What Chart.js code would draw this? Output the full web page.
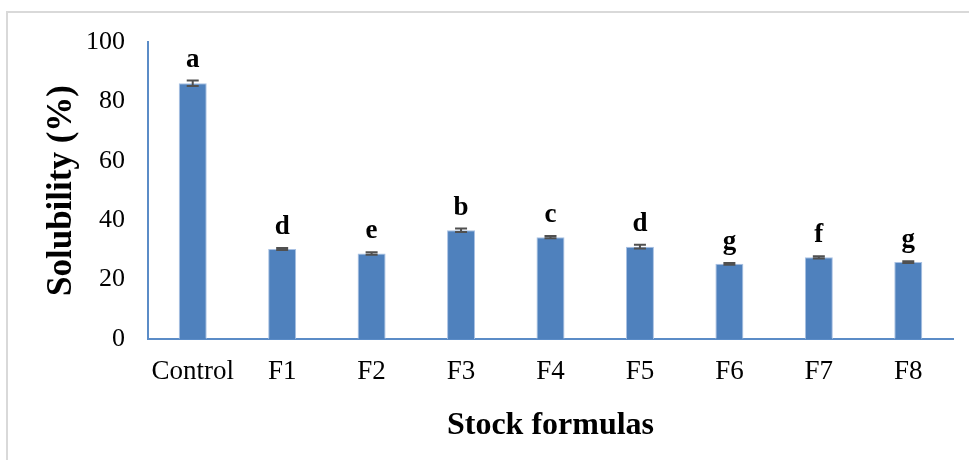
<!DOCTYPE html>
<html>
<head>
<meta charset="utf-8">
<script src="https://cdn.jsdelivr.net/npm/chart.js@4.4.1/dist/chart.umd.min.js"></script>
<style>
  html, body { margin: 0; padding: 0; background: #ffffff; }
  body { width: 969px; height: 460px; overflow: hidden; position: relative; }
  .frame {
    position: absolute; left: 6px; top: 11px; width: 1000px; height: 500px;
    border-left: 2px solid #d9d9d9; border-top: 2px solid #d9d9d9;
  }
  #chart { position: absolute; left: 0; top: 0; }
</style>
</head>
<body>
<div class="frame"></div>
<canvas id="chart" width="969" height="460"></canvas>
<script>
// Solubility of the stock formulas (mean ± SD) with significance groups
const categories = ['Control', 'F1', 'F2', 'F3', 'F4', 'F5', 'F6', 'F7', 'F8'];
const solubility = [86.1, 30.3, 28.8, 36.6, 34.3, 31.1, 25.3, 27.5, 25.9];
const deviation = [0.9, 0.3, 0.4, 0.6, 0.4, 0.6, 0.3, 0.4, 0.3];
const groupLetters = ['a', 'd', 'e', 'b', 'c', 'd', 'g', 'f', 'g'];
const yTickValues = [0, 20, 40, 60, 80, 100];

const serif = "'Liberation Serif', 'Times New Roman', serif";

// Error bars and letters drawn above each bar using the chart's scales
const errorBarsAndLetters = {
  id: 'errorBarsAndLetters',
  afterDatasetsDraw(chart) {
    const ctx = chart.ctx;
    const yScale = chart.scales.y;
    const meta = chart.getDatasetMeta(0);
    ctx.save();
    meta.data.forEach((bar, i) => {
      const x = bar.x;
      const yHigh = yScale.getPixelForValue(solubility[i] + deviation[i]);
      const yLow = yScale.getPixelForValue(solubility[i] - deviation[i]);
      const cap = 6;
      ctx.strokeStyle = '#505050';
      ctx.lineWidth = 2;
      ctx.beginPath();
      ctx.moveTo(x, yHigh); ctx.lineTo(x, yLow);
      ctx.moveTo(x - cap, yHigh); ctx.lineTo(x + cap, yHigh);
      ctx.moveTo(x - cap, yLow); ctx.lineTo(x + cap, yLow);
      ctx.stroke();

      ctx.fillStyle = '#000000';
      ctx.font = 'bold 27px ' + serif;
      ctx.textAlign = 'center';
      ctx.textBaseline = 'alphabetic';
      ctx.fillText(groupLetters[i], x, yHigh - 14);
    });
    ctx.restore();
  }
};

new Chart(document.getElementById('chart'), {
  type: 'bar',
  data: {
    labels: categories,
    datasets: [{
      data: solubility,
      backgroundColor: '#4f81bd',
      borderColor: '#a9c1e3',
      borderWidth: { left: 1, right: 1, top: 1, bottom: 0 },
      barPercentage: 0.313,
      categoryPercentage: 1.0
    }]
  },
  options: {
    responsive: false,
    animation: false,
    devicePixelRatio: 1,
    layout: { padding: { left: 0, top: 42, right: 16, bottom: 0 } },
    plugins: {
      legend: { display: false },
      tooltip: { enabled: false }
    },
    scales: {
      x: {
        offset: true,
        grid: { display: false, drawTicks: false },
        border: { display: true, color: '#5b8cc7', width: 2 },
        ticks: {
          color: '#000000',
          font: { family: serif, size: 27 },
          padding: 17,
          maxRotation: 0,
          autoSkip: false
        },
        title: {
          display: true,
          text: 'Stock formulas',
          color: '#000000',
          font: { family: serif, size: 32, weight: 'bold' },
          padding: { top: 0, bottom: 15 }
        },
        afterFit(scale) { scale.height = 121; }
      },
      y: {
        min: 0,
        max: 100,
        afterBuildTicks(scale) { scale.ticks = yTickValues.map(v => ({ value: v })); },
        grid: { display: false, drawTicks: false },
        border: { display: true, color: '#5b8cc7', width: 2 },
        ticks: {
          color: '#000000',
          font: { family: serif, size: 26 },
          padding: 23
        },
        title: {
          display: true,
          text: 'Solubility (%)',
          color: '#000000',
          font: { family: serif, size: 35, weight: 'bold' },
          padding: { top: 41, bottom: 0 }
        },
        afterFit(scale) { scale.width = 148; }
      }
    }
  },
  plugins: [errorBarsAndLetters]
});
</script>
</body>
</html>
